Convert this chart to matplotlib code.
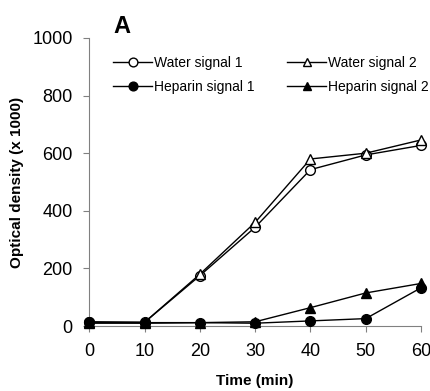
import matplotlib
matplotlib.use('Agg')
import matplotlib.pyplot as plt

plt.rcParams['font.family'] = ['Liberation Sans', 'DejaVu Sans']

time = [0, 10, 20, 30, 40, 50, 60]
water1 = [13, 13, 175, 343, 543, 594, 627]
water2 = [13, 13, 180, 360, 580, 600, 646]
heparin1 = [15, 12, 12, 10, 18, 26, 133]
heparin2 = [10, 10, 12, 15, 64, 115, 148]

fig = plt.figure(figsize=(4.31, 3.91), dpi=100)
ax = fig.add_axes([0.207, 0.166, 0.77, 0.737])

mk = dict(color='black', lw=1, ms=7, clip_on=False, zorder=3)
ax.plot(time, water1, marker='o', mfc='white', mec='black', label='Water signal 1', **mk)
ax.plot(time, water2, marker='^', mfc='white', mec='black', label='Water signal 2', **mk)
ax.plot(time, heparin1, marker='o', mfc='black', label='Heparin signal 1', **mk)
ax.plot(time, heparin2, marker='^', mfc='black', label='Heparin signal 2', **mk)

ax.set_xlim(0, 60)
ax.set_ylim(0, 1000)
ax.set_xticks(time)
ax.set_yticks([0, 200, 400, 600, 800, 1000])
for s in ['top', 'right']:
    ax.spines[s].set_visible(False)
for s in ['left', 'bottom']:
    ax.spines[s].set_color('#808080')
ax.tick_params(colors='#808080', labelcolor='black', labelsize=13, length=4, pad=8)

ax.set_xlabel('Time (min)', fontsize=11, fontweight='bold', labelpad=10)
ax.set_ylabel('Optical density (x 1000)', fontsize=11, fontweight='bold', labelpad=6)

# reorder legend: water row on top, heparin below
h, l = ax.get_legend_handles_labels()
order = [0, 2, 1, 3]
ax.legend([h[i] for i in order], [l[i] for i in order], ncol=2, frameon=False,
          fontsize=10, loc='upper left', bbox_to_anchor=(0.035, 0.98),
          handlelength=2.8, handletextpad=0.1, columnspacing=2.4, labelspacing=0.7,
          markerscale=0.9)

fig.text(0.262, 0.916, 'A', fontsize=17, fontweight='bold')

fig.savefig('out.png', dpi=100)
